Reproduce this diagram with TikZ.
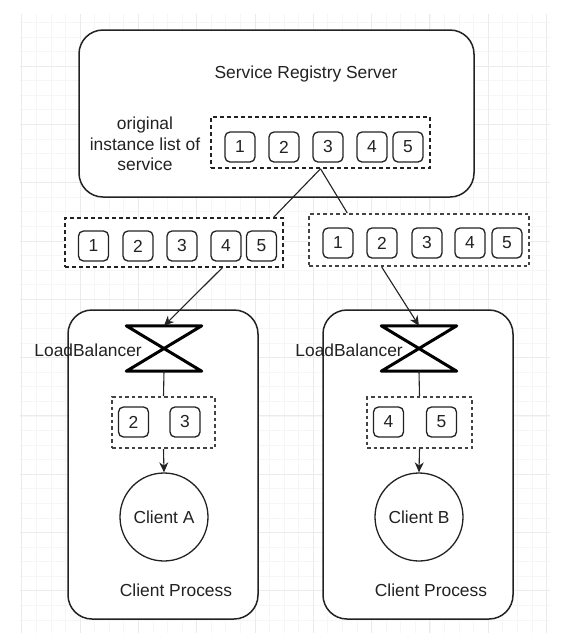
\documentclass[tikz,border=0pt]{standalone}
\usepackage{fontspec}
\setmainfont{Liberation Sans}
\usetikzlibrary{calc,arrows.meta}
\definecolor{ink}{HTML}{222222}
\definecolor{gmajor}{HTML}{EBEBEB}
\definecolor{gminor}{HTML}{F6F6F6}
\tikzset{
  txt/.style={font=\fontsize{17.4}{20.5}\selectfont, text=ink, inner sep=0pt},
  numbox/.style={txt, draw=ink, fill=white, line width=1.3pt, rounded corners=5pt,
    minimum width=30pt, minimum height=30pt},
  dashbox/.style={draw=ink, fill=white, line width=1.5pt, dash pattern=on 4pt off 3pt,
    inner sep=0pt},
  dotbox/.style={draw=ink!85, fill=white, line width=2pt, dash pattern=on 3.5pt off 3pt,
    inner sep=0pt},
  roundbox/.style={draw=ink, fill=white, line width=1.5pt, rounded corners=24pt,
    inner sep=0pt},
  hgbox/.style={inner sep=0pt, minimum width=75pt, minimum height=45pt},
  hgline/.style={draw=black, line width=3pt, line join=round},
  conn/.style={draw=ink, line width=1.1pt},
  arr/.style={conn, -{Stealth[length=10pt,width=9pt]}},
  clientc/.style={txt, circle, draw=ink, fill=white, line width=1.3pt, minimum size=88pt},
  gridmin/.style={draw=gminor, line width=0.6pt},
  gridmaj/.style={draw=gmajor, line width=0.8pt},
}
\begin{document}
\begin{tikzpicture}[x=1pt,y=-1pt]
\useasboundingbox[fill=white] (0,0) rectangle (574,641);
% background grid
\begin{scope}
  \clip (20,14) rectangle (550,633);
  \foreach \i in {0,...,37} {
    \draw[gridmin] ({21.7+\i*14.575},14) -- ({21.7+\i*14.575},633);
  }
  \foreach \j in {0,...,44} {
    \draw[gridmin] (20,{7.7+\j*14.575}) -- (550,{7.7+\j*14.575});
  }
  \foreach \i in {0,...,9} {
    \draw[gridmaj] ({21.7+\i*58.3},14) -- ({21.7+\i*58.3},633);
  }
  \foreach \j in {0,...,11} {
    \draw[gridmaj] (20,{7.7+\j*58.3}) -- (550,{7.7+\j*58.3});
  }
\end{scope}

% Service registry server
\node[roundbox, minimum width=395pt, minimum height=167pt] (srv) at (276.5,113.5) {};
\node[txt] (srvT) at (306,74) {Service Registry Server};
\node[txt, align=center] (orig) at (145,144) {original\\instance list of\\service};
\node[dashbox, minimum width=219pt, minimum height=51pt] (sIn) at (320.5,142.5) {};
\node[numbox] (s1) at (240,147) {1};
\node[numbox] (s2) at (284,147) {2};
\node[numbox] (s3) at (328,147) {3};
\node[numbox] (s4) at (372,147) {4};
\node[numbox] (s5) at (408,147) {5};

% copied lists
\node[dashbox, minimum width=218pt, minimum height=49pt] (lA) at (174,242.5) {};
\node[numbox] (a1) at (93.5,246) {1};
\node[numbox] (a2) at (138,246) {2};
\node[numbox] (a3) at (182,246) {3};
\node[numbox] (a4) at (226,246) {4};
\node[numbox] (a5) at (261.5,246) {5};

\node[dotbox, minimum width=220pt, minimum height=52pt] (rA) at (419,240) {};
\node[numbox] (b1) at (338,243) {1};
\node[numbox] (b2) at (382,243) {2};
\node[numbox] (b3) at (427,243) {3};
\node[numbox] (b4) at (470,243) {4};
\node[numbox] (b5) at (507,243) {5};

% client processes
\node[roundbox, minimum width=190pt, minimum height=309pt] (cA) at (163,464.5) {};
\node[roundbox, minimum width=190pt, minimum height=309pt] (cB) at (418,464.5) {};

\node[hgbox] (lbA) at (164,348.5) {};
\node[hgbox] (lbB) at (419,348.5) {};
\draw[hgline] (lbA.north west) -- (lbA.north east) -- (lbA.south west) -- (lbA.south east) -- cycle;
\draw[hgline] (lbB.north west) -- (lbB.north east) -- (lbB.south west) -- (lbB.south east) -- cycle;
\node[txt, anchor=east] (lbAT) at (142,350) {LoadBalancer};
\node[txt, anchor=east] (lbBT) at (403,350) {LoadBalancer};

\node[dotbox, minimum width=103pt, minimum height=51pt] (dA) at (163.5,422.5) {};
\node[numbox] (da2) at (133.5,422) {2};
\node[numbox] (da3) at (185,422) {3};
\node[dotbox, minimum width=105pt, minimum height=51pt] (dB) at (419.5,422.5) {};
\node[numbox] (db4) at (388.5,422) {4};
\node[numbox] (db5) at (441.5,422) {5};

\node[clientc] (ciA) at (164,517) {Client A};
\node[clientc] (ciB) at (419,517) {Client B};
\node[txt] (cpA) at (176,590) {Client Process};
\node[txt] (cpB) at (431,590) {Client Process};

% connectors
\draw[conn] (sIn.south) -- ($(lA.north west)!0.954!(lA.north east)$);
\draw[conn] (sIn.south) -- ($(rA.north west)!0.177!(rA.north east)$);
\draw[arr] ($(lA.south west)!0.72!(lA.south east)$) -- (lbA.north);
\draw[arr] ($(rA.south west)!0.332!(rA.south east)$) -- (lbB.north);
\draw[conn] (lbA.south) -- (dA.north);
\draw[conn] (lbB.south) -- (dB.north);
\draw[arr] (dA.south) -- (ciA.north);
\draw[arr] (dB.south) -- (ciB.north);
\end{tikzpicture}
\end{document}
